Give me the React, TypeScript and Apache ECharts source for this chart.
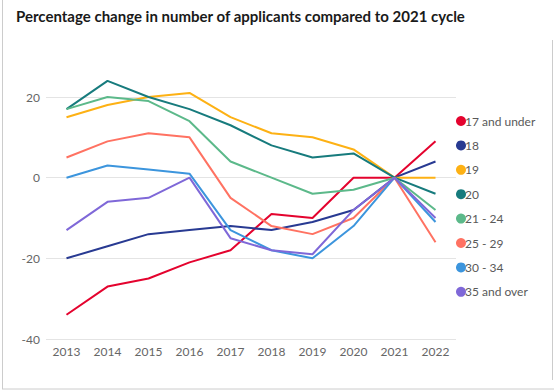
import React, { useEffect, useRef } from "react";
import * as echarts from "echarts";

const years = ["2013", "2014", "2015", "2016", "2017", "2018", "2019", "2020", "2021", "2022"];
const seriesNames = ["17 and under", "18", "19", "20", "21 - 24", "25 - 29", "30 - 34", "35 and over"];
const under17 = [-34, -27, -25, -21, -18, -9, -10, 0, 0, 9];
const age18 = [-20, -17, -14, -13, -12, -13, -11, -8, 0, 4];
const age19 = [15, 18, 20, 21, 15, 11, 10, 7, 0, 0];
const age20 = [17, 24, 20, 17, 13, 8, 5, 6, 0, -4];
const age21to24 = [17, 20, 19, 14, 4, 0, -4, -3, 0, -8];
const age25to29 = [5, 9, 11, 10, -5, -12, -14, -10, 0, -16];
const age30to34 = [0, 3, 2, 1, -13, -18, -20, -12, 0, -11];
const age35over = [-13, -6, -5, 0, -15, -18, -19, -8, 0, -10];
const seriesValues = [under17, age18, age19, age20, age21to24, age25to29, age30to34, age35over];
const colors = ["#E4032E", "#283A92", "#FDB114", "#177B7D", "#5CB98A", "#FF7262", "#3C95DD", "#7F68D8"];

export default function App() {
  const ref = useRef<HTMLDivElement>(null);
  useEffect(() => {
    if (!ref.current) return;
    const chart = echarts.init(ref.current, null, { renderer: "svg" });
    chart.setOption({
      animation: false,
      backgroundColor: "#ffffff",
      title: {
        text: "Percentage change in number of applicants compared to 2021 cycle",
        left: 11,
        top: 3,
        textStyle: { fontFamily: "Lato", fontWeight: "bold", fontSize: 15, color: "#1a1a1a" },
      },
      legend: {
        orient: "vertical",
        left: 451,
        top: 110,
        icon: "circle",
        itemWidth: 10,
        itemHeight: 10,
        itemGap: 12.4,
        textStyle: { fontFamily: "Lato", fontSize: 12, color: "#595959", padding: [0, 0, 0, -6] },
        data: seriesNames,
      },
      grid: { left: 46, width: 410, top: 97, height: 242 },
      xAxis: {
        type: "category",
        data: years,
        axisLine: { show: false },
        axisTick: { show: false },
        axisLabel: { color: "#666666", fontFamily: "Lato", fontSize: 12, margin: 6 },
      },
      yAxis: {
        type: "value",
        min: -40,
        max: 20,
        interval: 20,
        axisLabel: { color: "#666666", fontFamily: "Lato", fontSize: 12, margin: 6 },
        splitLine: { lineStyle: { color: "#e4e4e4", width: 1 } },
      },
      graphic: [
        { type: "line", shape: { x1: 2.5, y1: 0, x2: 2.5, y2: 389 }, style: { stroke: "#cccccc", lineWidth: 1 } },
        { type: "line", shape: { x1: 2, y1: 389, x2: 554, y2: 389 }, style: { stroke: "#cccccc", lineWidth: 1 } },
        { type: "line", shape: { x1: 552.5, y1: 40, x2: 552.5, y2: 380 }, style: { stroke: "#cccccc", lineWidth: 1 } },
      ],
      series: seriesNames.map((name, i) => ({
        name,
        type: "line",
        data: seriesValues[i],
        color: colors[i],
        symbol: "none",
        clip: false,
        lineStyle: { width: 2, color: colors[i] },
      })),
    });
    return () => chart.dispose();
  }, []);
  return <div ref={ref} style={{ position: "fixed", left: 0, top: 0, width: 554, height: 390 }} />;
}
